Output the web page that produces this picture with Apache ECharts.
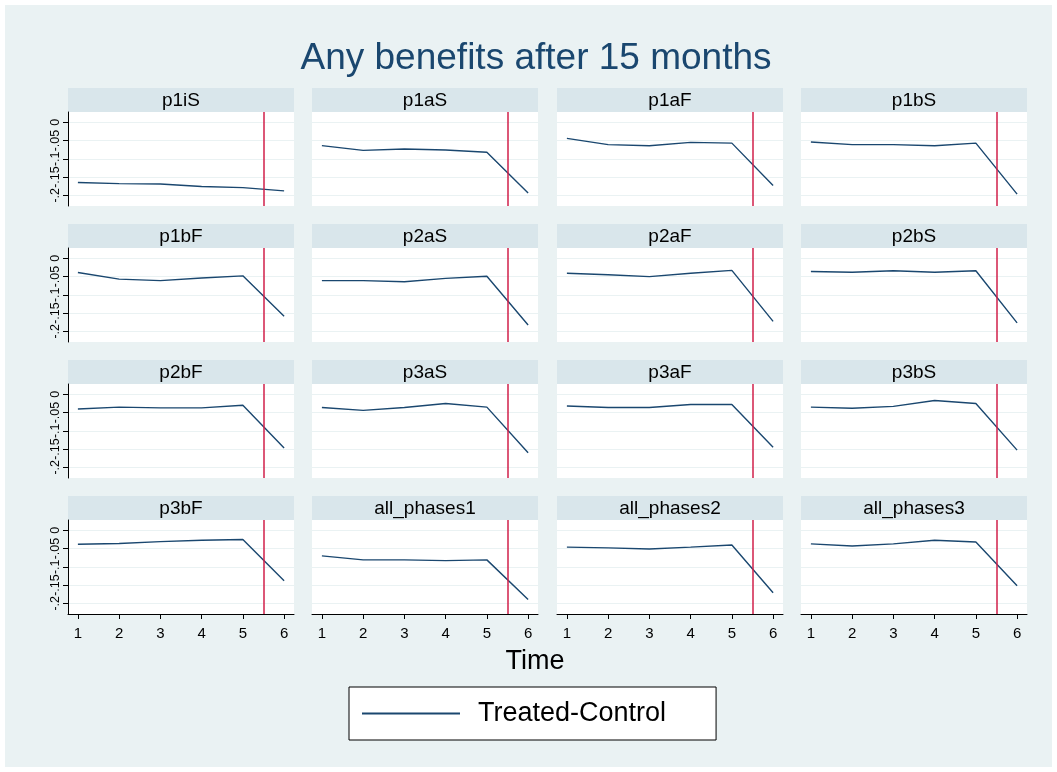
<!DOCTYPE html>
<html><head><meta charset="utf-8">
<script src="https://cdn.jsdelivr.net/npm/echarts@6/dist/echarts.min.js"></script>
<style>html,body{margin:0;padding:0;background:#fff}#c{width:1057px;height:772px}</style>
</head><body><div id="c"></div>
<script>
// ---- data ----
const periods = [1, 2, 3, 4, 5, 6];
const xTickLabels = ['1', '2', '3', '4', '5', '6'];
const yTicks = [-0.2, -0.15, -0.1, -0.05, 0];
const yTickLabels = ['-.2', '-.15', '-.1', '-.05', '0'];
const treatmentBreak = 5.5;
const panelNames = ['p1iS', 'p1aS', 'p1aF', 'p1bS', 'p1bF', 'p2aS', 'p2aF', 'p2bS',
                    'p2bF', 'p3aS', 'p3aF', 'p3bS', 'p3bF', 'all_phases1', 'all_phases2', 'all_phases3'];
const p1iS = [-0.165, -0.168, -0.169, -0.176, -0.179, -0.188];
const p1aS = [-0.064, -0.077, -0.073, -0.076, -0.082, -0.194];
const p1aF = [-0.044, -0.061, -0.064, -0.055, -0.057, -0.173];
const p1bS = [-0.054, -0.061, -0.061, -0.064, -0.057, -0.197];
const p1bF = [-0.039, -0.057, -0.061, -0.054, -0.048, -0.159];
const p2aS = [-0.061, -0.061, -0.064, -0.055, -0.049, -0.183];
const p2aF = [-0.041, -0.045, -0.050, -0.041, -0.033, -0.173];
const p2bS = [-0.036, -0.038, -0.034, -0.038, -0.034, -0.177];
const p2bF = [-0.040, -0.035, -0.037, -0.037, -0.030, -0.147];
const p3aS = [-0.036, -0.044, -0.036, -0.025, -0.035, -0.160];
const p3aF = [-0.032, -0.036, -0.036, -0.028, -0.028, -0.145];
const p3bS = [-0.035, -0.038, -0.033, -0.017, -0.025, -0.153];
const p3bF = [-0.038, -0.036, -0.031, -0.027, -0.025, -0.138];
const all_phases1 = [-0.070, -0.081, -0.081, -0.083, -0.081, -0.190];
const all_phases2 = [-0.046, -0.048, -0.051, -0.046, -0.040, -0.171];
const all_phases3 = [-0.037, -0.043, -0.037, -0.027, -0.032, -0.152];
const panelValues = [p1iS, p1aS, p1aF, p1bS, p1bF, p2aS, p2aF, p2bS,
                     p2bF, p3aS, p3aF, p3bS, p3bF, all_phases1, all_phases2, all_phases3];

// ---- layout / style ----
const FONT = '"Liberation Sans", Arial, sans-serif';
const NAVY = '#1a476f';
const colLeft = [68, 312, 557, 801];
const panelW = 226;
const rowTop = [88, 224, 360, 496];
const stripH = 24;
const plotH = 94;

const grids = [], xAxes = [], yAxes = [], series = [], graphics = [];
graphics.push({type: 'rect', z: -10, shape: {x: 5, y: 5, width: 1047, height: 762}, style: {fill: '#eaf2f3'}});

panelNames.forEach((name, i) => {
  const r = Math.floor(i / 4), c = i % 4;
  const left = colLeft[c], top = rowTop[r] + stripH;
  grids.push({left: left, top: top, width: panelW, height: plotH, show: true,
              backgroundColor: '#fff', borderWidth: 0});
  graphics.push({type: 'rect', shape: {x: left, y: rowTop[r], width: panelW, height: stripH},
                 style: {fill: '#d9e6eb'}});
  graphics.push({type: 'text', x: left + panelW / 2, y: rowTop[r] + stripH / 2 + 1,
                 style: {text: name, font: '19px ' + FONT, fill: '#000', align: 'center', verticalAlign: 'middle'}});
  const bottomRow = r === 3;
  xAxes.push({gridIndex: i, type: 'value', min: 0.76, max: 6.24,
    axisLine: {show: bottomRow, onZero: false, lineStyle: {color: '#000', width: 1}},
    axisTick: {show: bottomRow, length: 5, customValues: periods, lineStyle: {color: '#000'}},
    axisLabel: {show: bottomRow, customValues: periods, fontSize: 15, fontFamily: FONT, color: '#000', margin: 12,
                hideOverlap: false, formatter: v => xTickLabels[periods.indexOf(v)]},
    splitLine: {show: false}
  });
  const leftCol = c === 0;
  yAxes.push({gridIndex: i, type: 'value', min: -0.2295, max: 0.0284,
    axisLine: {show: leftCol, lineStyle: {color: '#000', width: 1}},
    axisTick: {show: leftCol, length: 5, customValues: yTicks, lineStyle: {color: '#000'}},
    axisLabel: {show: leftCol, customValues: yTicks, rotate: 90, fontSize: 12.5, fontFamily: FONT, color: '#000', margin: 6,
                hideOverlap: false, showMinLabel: true, showMaxLabel: true,
                formatter: v => { const k = yTicks.findIndex(t => Math.abs(t - v) < 1e-9); return k >= 0 ? yTickLabels[k] : ''; }},
    splitLine: {show: true, lineStyle: {color: '#eaf2f3', width: 1.2}}
  });
  series.push({
    name: 'Treated-Control', type: 'line', xAxisIndex: i, yAxisIndex: i,
    data: periods.map((t, k) => [t, panelValues[i][k]]),
    symbol: 'none', showSymbol: false, silent: true,
    lineStyle: {color: NAVY, width: 1.4}, itemStyle: {color: NAVY},
    markLine: {silent: true, symbol: 'none', label: {show: false},
      lineStyle: {color: '#d01f4a', width: 1.5, type: 'solid'},
      data: [{xAxis: treatmentBreak}]}
  });
});

const chart = echarts.init(document.getElementById('c'), null, {renderer: 'canvas'});
chart.setOption({
  animation: false,
  backgroundColor: '#fff',
  title: {text: 'Any benefits after 15 months', left: 531, top: 35, textAlign: 'center',
          textStyle: {fontSize: 37, fontWeight: 'normal', color: NAVY, fontFamily: FONT}},
  grid: grids, xAxis: xAxes, yAxis: yAxes, series: series,
  graphic: graphics.concat([
    {type: 'text', x: 535, y: 662, style: {text: 'Time', font: '27px ' + FONT, fill: '#000', align: 'center', verticalAlign: 'middle'}}
  ]),
  legend: {data: [{name: 'Treated-Control', icon: 'rect'}], left: 349, top: 687, orient: 'horizontal',
    backgroundColor: '#fff', borderColor: '#000', borderWidth: 1, borderRadius: 0,
    padding: [13, 50, 13, 13], itemWidth: 98, itemHeight: 2, itemGap: 10,
    itemStyle: {color: NAVY, borderWidth: 0},
    textStyle: {fontSize: 27, fontFamily: FONT, color: '#000', padding: [0, 0, 0, 13]},
    selectedMode: false}
});
</script></body></html>
